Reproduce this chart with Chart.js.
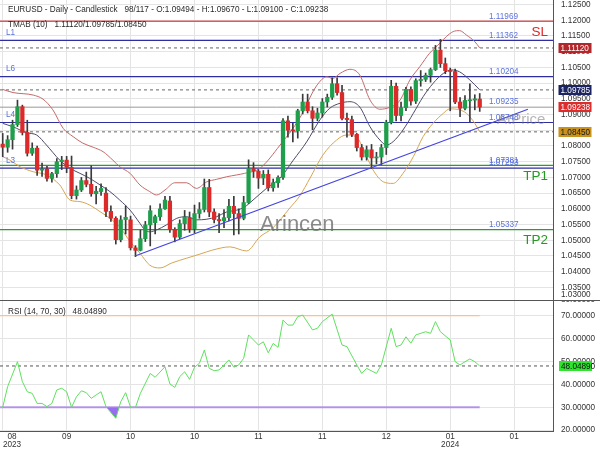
<!DOCTYPE html>
<html>
<head>
<meta charset="utf-8">
<script src="https://cdn.jsdelivr.net/npm/chart.js@4.4.1/dist/chart.umd.min.js"></script>
<style>
  html, body { margin: 0; padding: 0; background: #fff; }
  #wrap { position: relative; width: 600px; height: 450px; overflow: hidden; }
  .panel { position: absolute; left: 0; width: 600px; }
</style>
</head>
<body>
<div id="wrap">
  <div class="panel" style="top:0;height:300px"><canvas id="price-chart"></canvas></div>
  <div class="panel" style="top:300px;height:150px"><canvas id="rsi-chart"></canvas></div>
</div>
<script>
/**
 * EURUSD daily candlestick with TMA bands, levels and RSI(14)
 * Candles are floating bars (body + wick), everything on a linear bar-index axis
 */

// ---- data (bar index 0 = 2023-08-25 ... 97 = 2024-01-09) ----
const opens  = [1.0806,1.0796,1.0820,1.0868,1.0925,1.0843,1.0777,1.0793,1.0723,1.0727,
                1.0697,1.0712,1.0750,1.0755,1.0732,1.0642,1.0660,1.0690,1.0678,1.0648,
                1.0655,1.0650,1.0592,1.0570,1.0502,1.0566,1.0565,1.0476,1.0468,1.0505,
                1.0549,1.0556,1.0575,1.0600,1.0625,1.0535,1.0510,1.0553,1.0572,1.0537,
                1.0585,1.0598,1.0668,1.0590,1.0566,1.0562,1.0572,1.0608,1.0585,1.0570,
                1.0620,1.0728,1.0720,1.0698,1.0710,1.0667,1.0683,1.0700,1.0880,1.0850,
                1.0848,1.0912,1.0940,1.0912,1.0888,1.0905,1.0940,1.0955,1.0998,1.0970,
                1.0888,1.0884,1.0837,1.0795,1.0765,1.0788,1.0762,1.0765,1.0795,1.0875,
                1.0990,1.0897,1.0922,1.0980,1.0943,1.1008,1.1012,1.1025,1.1043,1.1105,
                1.1062,1.1040,1.1037,1.0940,1.0920,1.0944,1.0946,1.09494];
const highs  = [1.0840,1.0833,1.0882,1.0946,1.0930,1.0882,1.0810,1.0800,1.0746,1.0735,
                1.0716,1.0760,1.0767,1.0767,1.0768,1.0673,1.0700,1.0717,1.0737,1.0672,
                1.0680,1.0668,1.0610,1.0575,1.0578,1.0609,1.0577,1.0483,1.0532,1.0560,
                1.0610,1.0580,1.0616,1.0640,1.0640,1.0540,1.0565,1.0595,1.0590,1.0612,
                1.0620,1.0695,1.0694,1.0600,1.0585,1.0598,1.0630,1.0640,1.0600,1.0640,
                1.0756,1.0747,1.0725,1.0722,1.0724,1.0695,1.0705,1.0887,1.0895,1.0872,
                1.0917,1.0965,1.0965,1.0925,1.0920,1.0951,1.0965,1.1017,1.1017,1.0993,
                1.0905,1.0895,1.0840,1.0805,1.0800,1.0805,1.0780,1.0805,1.0882,1.1009,
                1.1000,1.0940,1.0987,1.0988,1.1014,1.1040,1.1032,1.1048,1.1120,1.1139,
                1.1080,1.1048,1.1045,1.0954,1.0960,1.0998,1.0963,1.09670];
const lows   = [1.0766,1.0780,1.0790,1.0862,1.0835,1.0768,1.0770,1.0706,1.0703,1.0688,
                1.0685,1.0700,1.0725,1.0715,1.0632,1.0631,1.0655,1.0670,1.0640,1.0616,
                1.0643,1.0575,1.0560,1.0488,1.0495,1.0520,1.0469,1.0448,1.0466,1.0496,
                1.0482,1.0520,1.0563,1.0598,1.0525,1.0495,1.0505,1.0532,1.0525,1.0523,
                1.0570,1.0590,1.0575,1.0555,1.0524,1.0540,1.0562,1.0517,1.0520,1.0565,
                1.0617,1.0700,1.0665,1.0677,1.0657,1.0656,1.0668,1.0694,1.0828,1.0813,
                1.0825,1.0902,1.0905,1.0852,1.0880,1.0892,1.0924,1.0948,1.0962,1.0883,
                1.0828,1.0830,1.0784,1.0755,1.0755,1.0728,1.0743,1.0740,1.0773,1.0870,
                1.0880,1.0880,1.0912,1.0930,1.0935,1.0990,1.1005,1.1003,1.1040,1.1050,
                1.1030,1.0912,1.0935,1.0893,1.0915,1.0877,1.0915,1.09100];
const closes = [1.0796,1.0820,1.0868,1.0925,1.0843,1.0777,1.0793,1.0723,1.0727,1.0697,
                1.0712,1.0750,1.0755,1.0732,1.0642,1.0660,1.0690,1.0678,1.0648,1.0656,
                1.0665,1.0592,1.0570,1.0502,1.0565,1.0573,1.0476,1.0468,1.0505,1.0549,
                1.0594,1.0575,1.0600,1.0628,1.0535,1.0510,1.0553,1.0574,1.0537,1.0585,
                1.0598,1.0668,1.0590,1.0566,1.0562,1.0572,1.0608,1.0585,1.0570,1.0620,
                1.0728,1.0720,1.0698,1.0710,1.0667,1.0683,1.0700,1.0880,1.0850,1.0848,
                1.0912,1.0940,1.0912,1.0888,1.0905,1.0940,1.0955,1.0998,1.0970,1.0888,
                1.0884,1.0837,1.0795,1.0765,1.0788,1.0762,1.0765,1.0795,1.0875,1.0990,
                1.0897,1.0922,1.0980,1.0943,1.1008,1.1012,1.1025,1.1043,1.1105,1.1062,
                1.1040,1.1037,1.0940,1.0920,1.0945,1.0946,1.0950,1.09238];

// TMA bands (10): [bar index, price]
const tmaUpper = [[0,1.0980],[2.1,1.0970],[6.2,1.0962],[8.2,1.0949],[10.2,1.0915],[12.3,1.0856],
  [14.3,1.0830],[16.3,1.0809],[18.4,1.0796],[20.4,1.0782],[22.4,1.0755],[23.8,1.0734],[25.9,1.0713],
  [27.9,1.0676],[29.9,1.0655],[31.3,1.0644],[33,1.0660],[35,1.0683],[37.4,1.0683],[39.4,1.0665],
  [41.5,1.0686],[43.5,1.0694],[45.5,1.0702],[47.6,1.0708],[49.2,1.0713],[52.3,1.0729],[56.4,1.0803],
  [60.4,1.0889],[63.8,1.0991],[65.9,1.1020],[67.1,1.1015],[68.6,1.1031],[70.6,1.1044],[72.6,1.1026],
  [74.7,1.0946],[76.7,1.0917],[78.7,1.0923],[80.8,1.0946],[82.8,1.1010],[84.8,1.1052],[86.8,1.1095],
  [88.9,1.1127],[90.2,1.1148],[91.6,1.1164],[92.9,1.1167],[94.3,1.1153],[96,1.1132],[97,1.1112]];
const tmaMiddle = [[0,1.0872],[2.1,1.0861],[4.9,1.0842],[6.9,1.0835],[8.9,1.0803],[11.6,1.0755],
  [13.7,1.0729],[15.7,1.0713],[17.7,1.0697],[19.8,1.0676],[21.8,1.0655],[23.8,1.0628],[25.9,1.0596],
  [27.9,1.0554],[28.9,1.0533],[29.9,1.0527],[31.3,1.0533],[33.3,1.0549],[35.4,1.0570],[37.4,1.0575],
  [39.4,1.0565],[41.5,1.0567],[43.5,1.0575],[45.5,1.0590],[47.6,1.0596],[49.2,1.0606],[50.9,1.0628],
  [53.7,1.0666],[56.4,1.0698],[59.1,1.0755],[61.8,1.0813],[64.5,1.0883],[66.5,1.0920],[68.6,1.0936],
  [70.6,1.0941],[72.6,1.0924],[74.7,1.0861],[76.7,1.0819],[78,1.0803],[79.4,1.0814],[81.4,1.0851],
  [83.5,1.0904],[85.5,1.0957],[87.5,1.0999],[89.6,1.1031],[91.3,1.1042],[92.9,1.1036],[95,1.1010],
  [97,1.09785]];
const tmaLower = [[0,1.0766],[1.5,1.0755],[3.5,1.0734],[6.2,1.0718],[8.9,1.0708],[11.6,1.0676],
  [13.7,1.0628],[15.7,1.0623],[17.7,1.0612],[19.8,1.0591],[21.8,1.0570],[23.8,1.0542],[25.9,1.0496],
  [27.9,1.0459],[29.9,1.0421],[32,1.0412],[34.4,1.0428],[37.4,1.0443],[40.1,1.0456],[42.7,1.0469],
  [46.2,1.0479],[49.6,1.0466],[52.3,1.0511],[54.9,1.0539],[58.4,1.0603],[60.4,1.0641],[62.5,1.0698],
  [65.1,1.0771],[67.9,1.0819],[69.9,1.0835],[71.9,1.0829],[74,1.0766],[75.3,1.0724],[77.4,1.0686],
  [79.4,1.0681],[81.4,1.0713],[83.5,1.0766],[85.5,1.0830],[87.5,1.0872],[89.6,1.0904],[90.9,1.0918],
  [92.9,1.0915],[94.3,1.0904],[96,1.0872],[97,1.0845]];

// RSI(14): [bar index, value]
const rsiValues = [[0,30.0],[1,39.0],[3,49.9],[4,41.2],[5,36.8],[6,36.1],[7,31.7],[8,31.7],[9,30.3],
  [10,31.7],[11,37.6],[12,38.3],[13,36.8],[14,30.0],[15,34.6],[16,37.2],[17,36.4],[18,33.9],[19,35.4],
  [20,36.8],[21,30.3],[23,25.2],[24,32.4],[25,36.4],[26,30.0],[27,30.0],[28,36.1],[30,44.8],[31,43.1],
  [33,47.7],[34,40.2],[35,38.7],[36,43.4],[37,45.5],[38,42.2],[39,47.5],[40,49.2],[41,55.0],[42,47.0],
  [43,46.0],[44,46.3],[46,50.7],[47,47.5],[48,48.5],[49,51.4],[50,61.6],[51,59.4],[52,57.2],[53,58.6],
  [54,53.8],[55,57.9],[56,56.2],[57,68.1],[58,65.9],[59,65.9],[60,69.6],[61,70.3],[63,63.8],[64,64.5],
  [65,67.4],[67,70.7],[69,57.2],[70,56.5],[72,48.5],[73,44.8],[74,47.0],[76,44.8],[77,48.5],[79,64.5],
  [80,56.5],[81,57.2],[82,60.8],[83,58.0],[84,61.6],[86,63.0],[87,62.3],[88,67.4],[89,63.0],[91,59.4],
  [92,49.9],[93,48.5],[94,49.9],[95,51.1],[96,49.9],[97,48.0489]];
const rsiLast = 48.04890;

// levels
const levelNames  = ['L1', 'L6', 'L4', 'L3'];
const levelValues = [1.11362, 1.10204, 1.08748, 1.07293];
const targetNames  = ['SL', 'TP1', 'TP2'];
const targetValues = [1.11969, 1.07381, 1.05337];
const pivotValue = 1.09235;
const tmabLast = [1.11120, 1.09785, 1.08450];
const trendLine = [[26.9, 1.0450], [106.8, 1.09168]];

// axes
const xTickIdx    = [0, 13, 26, 39, 52, 65, 78, 91, 104];
const xTickLabels = ['08', '09', '10', '10', '11', '11', '12', '01', '01'];
const xTickYears  = ['2023', '', '', '', '', '', '', '2024', ''];
const priceTicks = [1.030, 1.035, 1.040, 1.045, 1.050, 1.055, 1.060, 1.065, 1.070, 1.075,
                    1.080, 1.085, 1.090, 1.095, 1.100, 1.105, 1.110, 1.115, 1.120, 1.125];
const rsiTicks = [20, 30, 40, 50, 60, 70, 80];

// ---- view / styling ----
const X_MIN = -0.55, X_MAX = 111.9;
const PRICE_MIN = 1.0310, PRICE_MAX = 1.12645;
const RSI_MIN = 19.65, RSI_MAX = 76.42;
const LAST_BAR = closes.length - 1;

const FONT = '"Liberation Sans", Arial, sans-serif';
const GRID = '#e4e4e4';
const AXIS = '#555';
const UP = '#1f9f4c', DOWN = '#dc2a2a';
const LEVEL_BLUE = '#2e2ea0', LABEL_BLUE = '#5a72dc';
const SL_RED = '#e05a5a', TP_GREEN = '#2f9a2f';

Chart.defaults.font.family = FONT;
Chart.defaults.font.size = 8.2;
Chart.defaults.color = '#333';

const pts = arr => arr.map(([x, y]) => ({ x, y }));

function flat(value, x0, x1, color, width, dash, order) {
  return {
    type: 'line',
    data: [{ x: x0, y: value }, { x: x1, y: value }],
    borderColor: color, borderWidth: width, borderDash: dash || [],
    pointRadius: 0, fill: false, order: order === undefined ? 6 : order
  };
}

function band(arr, color) {
  return {
    type: 'line', data: pts(arr), borderColor: color, borderWidth: 1,
    pointRadius: 0, fill: false, cubicInterpolationMode: 'monotone', order: 3
  };
}

function xScale(extra) {
  return Object.assign({
    type: 'linear', min: X_MIN, max: X_MAX, offset: false,
    afterBuildTicks: s => { s.ticks = xTickIdx.map(v => ({ value: v })); },
    afterFit: s => { s.height = 0; s.paddingLeft = 0; s.paddingRight = 0; },
    ticks: { display: false },
    grid: { color: GRID, drawTicks: false, offset: false },
    border: { display: false }
  }, extra || {});
}

function yScale(min, max, ticks) {
  return {
    position: 'right', min, max,
    afterBuildTicks: s => { s.ticks = ticks.filter(v => v >= min && v <= max).map(v => ({ value: v })); },
    // fixed axis width, no label overflow padding so the plot fills the panel
    afterFit: s => { s.width = 47; s.paddingTop = 0; s.paddingBottom = 0; },
    ticks: { padding: 8, color: '#333', callback: v => Number(v).toFixed(5) },
    grid: { color: GRID, drawTicks: false },
    border: { display: true, color: AXIS }
  };
}

function valueBox(ctx, x, yc, text, bg, fg) {
  ctx.fillStyle = bg;
  ctx.fillRect(x, Math.round(yc) - 5, 33, 10);
  ctx.fillStyle = fg;
  ctx.fillText(text, x + 2, Math.round(yc) + 0.5);
}

// ---- price panel ----
const priceOverlay = {
  id: 'priceOverlay',
  afterDraw(chart) {
    const { ctx, chartArea: a } = chart;
    const y = chart.scales.y;
    const n = LAST_BAR;
    ctx.save();
    ctx.textBaseline = 'middle';
    ctx.textAlign = 'left';
    ctx.font = '8.2px ' + FONT;

    // watermarks
    ctx.fillStyle = 'rgba(110,110,110,0.8)';
    ctx.font = '22px ' + FONT;
    ctx.textBaseline = 'alphabetic';
    ctx.fillText('Arincen', 260, 231);
    ctx.fillStyle = 'rgba(120,120,120,0.55)';
    ctx.font = '15px ' + FONT;
    ctx.fillText('AtPrice', 497, 124);
    ctx.textBaseline = 'middle';
    ctx.font = '8.2px ' + FONT;

    // headers
    ctx.fillStyle = '#2a2a2a';
    ctx.fillText('EURUSD - Daily - Candlestick   ' + (n + 1) + '/117 - O:' + opens[n].toFixed(5) +
      ' - H:' + highs[n].toFixed(5) + ' - L:' + lows[n].toFixed(5) + ' - C:' + closes[n].toFixed(5), 8, 10);
    ctx.fillText('TMAB (10)   ' + tmabLast.map(v => v.toFixed(5)).join('/'), 8, 25);

    // level names (left) and level values
    ctx.fillStyle = LABEL_BLUE;
    levelNames.forEach((name, k) => ctx.fillText(name, 6, y.getPixelForValue(levelValues[k]) - 7.5));
    [...targetValues, ...levelValues, pivotValue].forEach(v =>
      ctx.fillText(v.toFixed(5), a.right - 64, y.getPixelForValue(v) - 5));

    // SL / TP tags
    ctx.font = '13.5px ' + FONT;
    ctx.textAlign = 'right';
    targetNames.forEach((name, k) => {
      ctx.fillStyle = name === 'SL' ? '#e02828' : '#249a24';
      ctx.fillText(name, a.right - 5, y.getPixelForValue(targetValues[k]) + 11);
    });

    // clamped out-of-range tick
    ctx.font = '8.2px ' + FONT;
    ctx.textAlign = 'left';
    ctx.fillStyle = '#333';
    priceTicks.filter(v => v < PRICE_MIN).forEach(v => ctx.fillText(v.toFixed(5), a.right + 8, a.bottom - 5));

    // last value boxes
    const bx = a.right + 5.5;
    valueBox(ctx, bx, y.getPixelForValue(tmabLast[0]), tmabLast[0].toFixed(5), '#b3262a', '#fff');
    valueBox(ctx, bx, y.getPixelForValue(tmabLast[1]), tmabLast[1].toFixed(5), '#1b2463', '#fff');
    valueBox(ctx, bx, y.getPixelForValue(closes[n]), closes[n].toFixed(5), '#dc2c2c', '#fff');
    valueBox(ctx, bx, y.getPixelForValue(tmabLast[2]), tmabLast[2].toFixed(5), '#c8921c', '#1a1a1a');
    ctx.restore();
  }
};

const bodyData = opens.map((o, i) => ({ x: i, y: [o, closes[i]] }));
const wickData = lows.map((l, i) => ({ x: i, y: [l, highs[i]] }));
const bodyColors = closes.map((c, i) => (c >= opens[i] ? UP : DOWN));

new Chart(document.getElementById('price-chart'), {
  type: 'bar',
  data: {
    datasets: [
      { type: 'line', data: pts(trendLine), borderColor: '#4444e0', borderWidth: 1.2, pointRadius: 0, order: 0 },
      { data: bodyData, backgroundColor: bodyColors, barThickness: 3.6, minBarLength: 1, grouped: false, order: 1 },
      { data: wickData, backgroundColor: '#3a3a3a', barThickness: 1, grouped: false, order: 2 },
      band(tmaUpper, '#c46a6a'),
      band(tmaMiddle, '#4b4b68'),
      band(tmaLower, '#d6a552'),
      flat(targetValues[0], X_MIN, X_MAX, SL_RED, 1.3),
      flat(levelValues[0], X_MIN, X_MAX, LEVEL_BLUE, 1.2),
      flat(tmabLast[0], X_MIN, X_MAX, '#666', 1, [3, 3]),
      flat(levelValues[1], X_MIN, X_MAX, LEVEL_BLUE, 1.2),
      flat(tmabLast[1], X_MIN, X_MAX, '#666', 1, [3, 3]),
      flat(pivotValue, X_MIN, X_MAX, '#999', 1),
      flat(levelValues[2], X_MIN, X_MAX, LEVEL_BLUE, 1.2),
      flat(tmabLast[2], X_MIN, X_MAX, '#666', 1, [3, 3]),
      flat(targetValues[1], X_MIN, X_MAX, TP_GREEN, 1.2),
      flat(levelValues[3], X_MIN, X_MAX, LEVEL_BLUE, 1.2),
      flat(targetValues[2], X_MIN, X_MAX, TP_GREEN, 1.2)
    ]
  },
  options: {
    responsive: true,
    maintainAspectRatio: false,
    animation: false,
    events: [],
    layout: { autoPadding: false, padding: 0 },
    plugins: { legend: { display: false }, tooltip: { enabled: false } },
    scales: {
      x: xScale(),
      y: yScale(PRICE_MIN, PRICE_MAX, priceTicks)
    }
  },
  plugins: [priceOverlay]
});

// ---- RSI panel ----
const rsiOverlay = {
  id: 'rsiOverlay',
  afterDraw(chart) {
    const { ctx, chartArea: a } = chart;
    const x = chart.scales.x, y = chart.scales.y;
    ctx.save();
    ctx.textBaseline = 'middle';
    ctx.textAlign = 'left';
    ctx.font = '8.2px ' + FONT;

    // cover labels below the panel on the axis side
    ctx.fillStyle = '#fff';
    ctx.fillRect(a.right + 1, a.bottom + 1, 60, 30);

    // clamped top tick
    ctx.fillStyle = '#333';
    rsiTicks.filter(v => v > RSI_MAX).forEach(v => ctx.fillText(v.toFixed(5), a.right + 8, 0));

    // panel separator
    ctx.strokeStyle = AXIS;
    ctx.lineWidth = 1;
    ctx.beginPath();
    ctx.moveTo(0, 0.5);
    ctx.lineTo(600, 0.5);
    ctx.stroke();

    ctx.fillStyle = '#2a2a2a';
    ctx.fillText('RSI (14, 70, 30)   ' + rsiLast.toFixed(5), 8, 11.5);

    // last RSI box
    valueBox(ctx, a.right + 6, y.getPixelForValue(rsiLast), rsiLast.toFixed(5), '#2fe32f', '#111');

    // date labels
    ctx.textAlign = 'center';
    ctx.fillStyle = '#333';
    xTickIdx.forEach((idx, k) => {
      const cx = Math.max(x.getPixelForValue(idx), 12);
      ctx.fillText(xTickLabels[k], cx, a.bottom + 5.5);
      if (xTickYears[k]) ctx.fillText(xTickYears[k], cx, a.bottom + 14);
    });
    ctx.restore();
  }
};

new Chart(document.getElementById('rsi-chart'), {
  type: 'line',
  data: {
    datasets: [
      {
        data: pts(rsiValues), borderColor: '#5fe05f', borderWidth: 1, pointRadius: 0, tension: 0,
        fill: { target: { value: 30 }, above: 'rgba(0,0,0,0)', below: '#9a6cf0' }, order: 0
      },
      flat(70, X_MIN, LAST_BAR, '#f9c486', 1.3, [], 2),
      flat(30, X_MIN, LAST_BAR, '#b79be9', 2, [], 2),
      flat(rsiLast, X_MIN, X_MAX, '#555', 1, [3, 3], 1)
    ]
  },
  options: {
    responsive: true,
    maintainAspectRatio: false,
    animation: false,
    events: [],
    layout: { autoPadding: false, padding: { top: 1, bottom: 19, left: 0, right: 0 } },
    plugins: { legend: { display: false }, tooltip: { enabled: false } },
    scales: {
      x: xScale({ border: { display: true, color: AXIS } }),
      y: yScale(RSI_MIN, RSI_MAX, rsiTicks)
    }
  },
  plugins: [rsiOverlay]
});
</script>
</body>
</html>
